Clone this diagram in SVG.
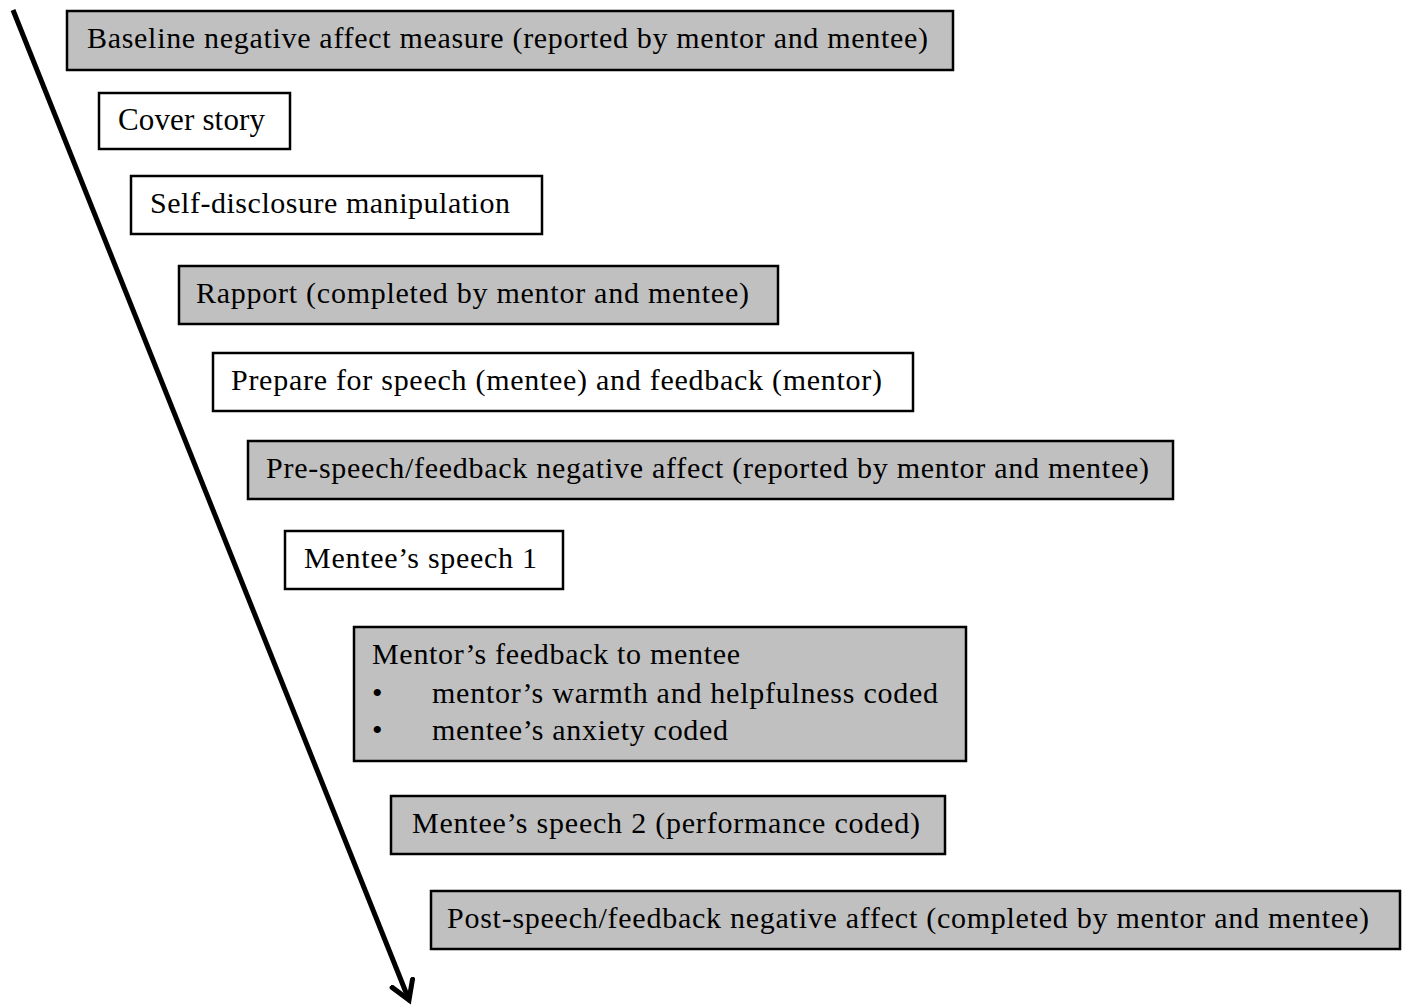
<svg xmlns="http://www.w3.org/2000/svg" width="1406" height="1006" viewBox="0 0 1406 1006" font-family="Liberation Serif" font-size="30">
<style>
.box{stroke:#000;stroke-width:2.5}
.g{fill:#c0c0c0}
.w{fill:#fff}
.t{font-family:"Liberation Serif","Times New Roman",serif;font-size:30px;fill:#000}
</style>
<defs>
<marker id="ah" markerUnits="userSpaceOnUse" markerWidth="40" markerHeight="40" refX="20" refY="20" orient="auto" viewBox="0 0 40 40">
<path d="M2,9 L20,20 L2,31" fill="none" stroke="#000" stroke-width="5" stroke-linecap="round"/>
</marker>
</defs>
<rect width="1406" height="1006" fill="#fff"/>
<g id="connectors">
<line x1="13" y1="10" x2="409" y2="1000" stroke="#000" stroke-width="5" marker-end="url(#ah)"/>
</g>
<g id="n1"><rect class="box g" x="67" y="11" width="886" height="59"/><text class="t" x="87" y="48" textLength="841" lengthAdjust="spacing">Baseline negative affect measure (reported by mentor and mentee)</text></g>
<g id="n2"><rect class="box w" x="99" y="93" width="191" height="56"/><text class="t" x="118" y="130" textLength="147" lengthAdjust="spacing" style="font-size:31px">Cover story</text></g>
<g id="n3"><rect class="box w" x="131" y="176" width="411" height="58"/><text class="t" x="150" y="213" textLength="360" lengthAdjust="spacing">Self-disclosure manipulation</text></g>
<g id="n4"><rect class="box g" x="179" y="266" width="599" height="58"/><text class="t" x="196" y="303" textLength="553" lengthAdjust="spacing">Rapport (completed by mentor and mentee)</text></g>
<g id="n5"><rect class="box w" x="213" y="353" width="700" height="58"/><text class="t" x="231" y="390" textLength="651" lengthAdjust="spacing">Prepare for speech (mentee) and feedback (mentor)</text></g>
<g id="n6"><rect class="box g" x="248" y="441" width="925" height="58"/><text class="t" x="266" y="478" textLength="883" lengthAdjust="spacing">Pre-speech/feedback negative affect (reported by mentor and mentee)</text></g>
<g id="n7"><rect class="box w" x="285" y="531" width="278" height="58"/><text class="t" x="304" y="568" textLength="233" lengthAdjust="spacing">Mentee’s speech 1</text></g>
<g id="n8"><rect class="box g" x="354" y="627" width="612" height="134"/>
<text class="t" x="372" y="664" textLength="368" lengthAdjust="spacing">Mentor’s feedback to mentee</text>
<text class="t" x="372" y="703">•</text><text class="t" x="432" y="703" textLength="506" lengthAdjust="spacing">mentor’s warmth and helpfulness coded</text>
<text class="t" x="372" y="740">•</text><text class="t" x="432" y="740" textLength="296" lengthAdjust="spacing">mentee’s anxiety coded</text></g>
<g id="n9"><rect class="box g" x="391" y="796" width="554" height="58"/><text class="t" x="412" y="833" textLength="508" lengthAdjust="spacing">Mentee’s speech 2 (performance coded)</text></g>
<g id="n10"><rect class="box g" x="431" y="891" width="969" height="58"/><text class="t" x="447" y="928" textLength="922" lengthAdjust="spacing">Post-speech/feedback negative affect (completed by mentor and mentee)</text></g>
</svg>
